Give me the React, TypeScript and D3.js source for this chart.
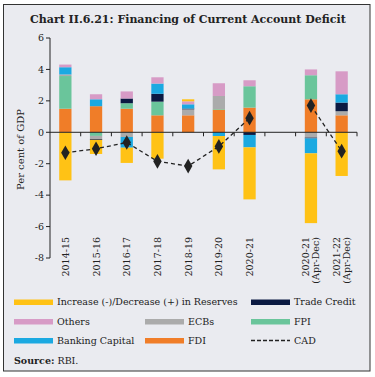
import React from "react";
import * as d3 from "d3";

const categories = ["2014-15", "2015-16", "2016-17", "2017-18", "2018-19", "2019-20", "2020-21", "", "2020-21|(Apr-Dec)", "2021-22|(Apr-Dec)"];
const fdi = [1.5, 1.66, 1.5, 1.08, 1.08, 1.44, 1.57, 0, 2.1, 1.08];
const fpi = [2.08, -0.23, 0.35, 0.87, 0, 0.04, 1.36, 0, 1.53, 0];
const ecbs = [0.1, -0.2, -0.3, 0, 0.38, 0.83, 0, 0, -0.34, 0.26];
const tradeCredit = [0, -0.05, 0.3, 0.5, 0.05, 0, -0.17, 0, -0.05, 0.55];
const bankingCapital = [0.46, 0.44, -0.68, 0.65, 0.27, -0.24, -0.79, 0, -0.95, 0.53];
const others = [0.17, 0.32, 0.45, 0.4, 0.19, 0.81, 0.38, 0, 0.37, 1.46];
const reserves = [-3.06, -0.9, -0.97, -1.68, 0.13, -2.12, -3.31, 0, -4.44, -2.78];
const cad = [-1.3, -1.05, -0.65, -1.85, -2.15, -0.9, 0.9, null, 1.7, -1.2];
const yTicks = [6, 4, 2, 0, -2, -4, -6, -8];

const seriesNames = ["FDI", "FPI", "ECBs", "Trade Credit", "Banking Capital", "Others", "Reserves"];
const seriesValues = [fdi, fpi, ecbs, tradeCredit, bankingCapital, others, reserves];
const colors: Record<string, string> = {
  FDI: "#f07d28",
  FPI: "#6ac59b",
  ECBs: "#ababab",
  "Trade Credit": "#0b1a42",
  "Banking Capital": "#1ba9e1",
  Others: "#d79bc6",
  Reserves: "#ffc215",
};

const FONT = "DejaVu Serif";

export default function App() {
  const W = 375, H = 377;
  const x = d3.scaleBand<number>().domain(d3.range(categories.length)).range([50, 357]).paddingInner(0.6).paddingOuter(0.3);
  const step = x.step();
  const y = d3.scaleLinear().domain([-8, 6]).range([258, 38]);

  const rows = categories.map((c, i) => {
    const r: any = { i };
    seriesNames.forEach((s, k) => (r[s] = seriesValues[k][i]));
    return r;
  });
  const stack = d3.stack<any>().keys(seriesNames).offset(d3.stackOffsetDiverging)(rows);

  const line = d3
    .line<number | null>()
    .defined((d) => d !== null)
    .x((_, i) => (x(i) as number) + x.bandwidth() / 2)
    .y((d) => y(d as number));

  const diamond = d3.symbol().type(d3.symbolDiamond).size(62)();

  const legend = [
    { label: "Increase (-)/Decrease (+) in Reserves", key: "Reserves", x: 14, y: 302 },
    { label: "Trade Credit", key: "Trade Credit", x: 251, y: 302 },
    { label: "Others", key: "Others", x: 14, y: 321.5 },
    { label: "ECBs", key: "ECBs", x: 145, y: 321.5 },
    { label: "FPI", key: "FPI", x: 251, y: 321.5 },
    { label: "Banking Capital", key: "Banking Capital", x: 14, y: 340.5 },
    { label: "FDI", key: "FDI", x: 145, y: 340.5 },
    { label: "CAD", key: "CAD", x: 251, y: 340.5 },
  ];

  return (
    <svg width={W} height={H} style={{ position: "absolute", left: 0, top: 0 }} fontFamily={FONT}>
      <rect x={3.5} y={4.5} width={366.5} height={366.5} fill="#eaebf0" stroke="#333" strokeWidth={1} />
      <text x={30} y={23} fontSize={11} fontWeight="bold" fill="#222">Chart II.6.21: Financing of Current Account Deficit</text>

      {stack.map((s) => (
        <g key={s.key} fill={colors[s.key]}>
          {s.map((d, i) =>
            categories[i] === "" || d[0] === d[1] ? null : (
              <rect key={i} x={x(i)} width={x.bandwidth()} y={y(Math.max(d[0], d[1]))} height={Math.abs(y(d[0]) - y(d[1]))} />
            )
          )}
        </g>
      ))}

      {/* y axis */}
      <line x1={50} x2={50} y1={38} y2={258} stroke="#222" />
      {yTicks.map((t) => (
        <g key={t}>
          <line x1={46} x2={50} y1={y(t)} y2={y(t)} stroke="#222" />
          <text x={44} y={y(t)} dy="0.35em" textAnchor="end" fontSize={9.5} fill="#222">{t}</text>
        </g>
      ))}
      <text transform={`translate(24,${y(-1.1)}) rotate(-90)`} textAnchor="middle" fontSize={10} fill="#222">Per cent of GDP</text>

      {/* x axis */}
      <line x1={50} x2={357} y1={y(0)} y2={y(0)} stroke="#222" />
      {d3.range(1, categories.length + 1).map((k) => (
        <line key={k} x1={50 + k * step} x2={50 + k * step} y1={y(0)} y2={y(0) + 4} stroke="#222" />
      ))}
      {categories.map((c, i) => {
        const parts = c.split("|");
        const cx = (x(i) as number) + x.bandwidth() / 2;
        return parts.map((p, j) => (
          <text
            key={i + "-" + j}
            transform={`translate(${cx + (parts.length === 1 ? 3.5 : -2 + j * 10)},237) rotate(-90)`}
            textAnchor="end"
            fontSize={9.5}
            fill="#222"
          >
            {p}
          </text>
        ));
      })}

      {/* CAD */}
      <path d={line(cad) || ""} fill="none" stroke="#222" strokeWidth={1.3} strokeDasharray="4,3" />
      {cad.map((v, i) =>
        v === null ? null : (
          <path key={i} d={diamond || ""} transform={`translate(${(x(i) as number) + x.bandwidth() / 2},${y(v)})`} fill="#222" />
        )
      )}

      {/* legend */}
      {legend.map((l) => (
        <g key={l.key}>
          {l.key === "CAD" ? (
            <line x1={l.x} x2={l.x + 39} y1={l.y} y2={l.y} stroke="#222" strokeWidth={1.3} strokeDasharray="4,2" />
          ) : (
            <rect x={l.x} y={l.y - 2.5} width={39} height={5.5} fill={colors[l.key]} />
          )}
          <text x={l.x + 43} y={l.y} dy="0.35em" fontSize={9.5} fill="#222">{l.label}</text>
        </g>
      ))}
      <text x={14} y={364} fontSize={9.5} fill="#222">
        <tspan fontWeight="bold">Source:</tspan> RBI.
      </text>
    </svg>
  );
}
